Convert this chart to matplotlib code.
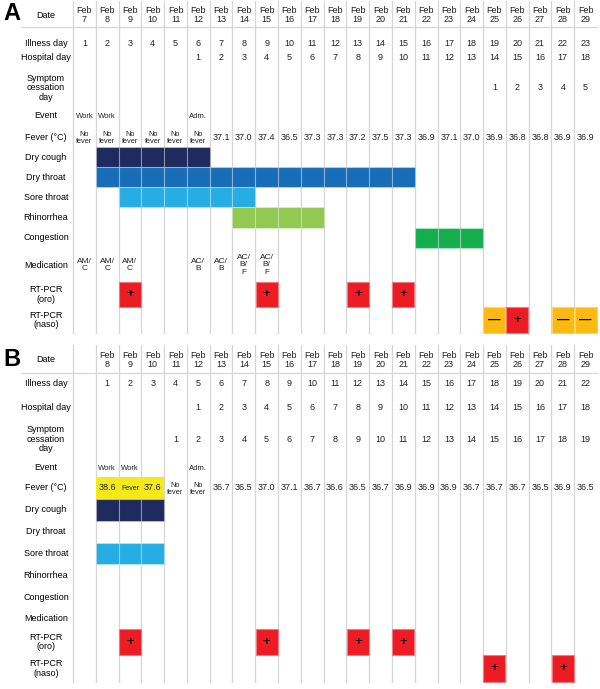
"""Timeline of symptoms and RT-PCR results for two patients (panels A and B)."""

import matplotlib.pyplot as plt
from matplotlib.patches import Rectangle

plt.rcParams["font.family"] = ["Liberation Sans", "DejaVu Sans"]

# ---- data: panel A (Feb 7 - Feb 29) ----
days_a = [7, 8, 9, 10, 11, 12, 13, 14, 15, 16, 17, 18, 19, 20, 21, 22, 23, 24, 25, 26, 27, 28, 29]
illness_a = [1, 2, 3, 4, 5, 6, 7, 8, 9, 10, 11, 12, 13, 14, 15, 16, 17, 18, 19, 20, 21, 22, 23]
hospital_a = [None, None, None, None, None, 1, 2, 3, 4, 5, 6, 7, 8, 9, 10, 11, 12, 13, 14, 15, 16, 17, 18]
cessation_a = [None] * 18 + [1, 2, 3, 4, 5]
events_a = {7: "Work", 8: "Work", 12: "Adm."}
fever_a = ["No\nfever"] * 6 + ["37.1", "37.0", "37.4", "36.5", "37.3", "37.3", "37.2", "37.5", "37.3",
                               "36.9", "37.1", "37.0", "36.9", "36.8", "36.8", "36.9", "36.9"]
fever_high_a = []
symptoms_a = {
    "Dry cough": [8, 9, 10, 11, 12],
    "Dry throat": [8, 9, 10, 11, 12, 13, 14, 15, 16, 17, 18, 19, 20, 21],
    "Sore throat": [9, 10, 11, 12, 13, 14],
    "Rhinorrhea": [14, 15, 16, 17],
    "Congestion": [22, 23, 24],
}
medication_a = {7: "AM/\nC", 8: "AM/\nC", 9: "AM/\nC", 12: "AC/\nB", 13: "AC/\nB", 14: "AC/\nB/\nF", 15: "AC/\nB/\nF"}
pcr_oro_a = {9: "+", 15: "+", 19: "+", 21: "+"}
pcr_naso_a = {25: "-", 26: "+", 28: "-", 29: "-"}

# ---- data: panel B (Feb 8 - Feb 29) ----
days_b = [8, 9, 10, 11, 12, 13, 14, 15, 16, 17, 18, 19, 20, 21, 22, 23, 24, 25, 26, 27, 28, 29]
illness_b = [1, 2, 3, 4, 5, 6, 7, 8, 9, 10, 11, 12, 13, 14, 15, 16, 17, 18, 19, 20, 21, 22]
hospital_b = [None, None, None, None, 1, 2, 3, 4, 5, 6, 7, 8, 9, 10, 11, 12, 13, 14, 15, 16, 17, 18]
cessation_b = [None, None, None, 1, 2, 3, 4, 5, 6, 7, 8, 9, 10, 11, 12, 13, 14, 15, 16, 17, 18, 19]
events_b = {8: "Work", 9: "Work", 12: "Adm."}
fever_b = ["38.6", "Fever", "37.6", "No\nfever", "No\nfever", "36.7", "36.5", "37.0", "37.1", "36.7", "36.6",
           "36.5", "36.7", "36.9", "36.9", "36.9", "36.7", "36.7", "36.7", "36.5", "36.9", "36.5"]
fever_high_b = [8, 9, 10]
symptoms_b = {
    "Dry cough": [8, 9, 10],
    "Dry throat": [],
    "Sore throat": [8, 9, 10],
    "Rhinorrhea": [],
    "Congestion": [],
}
medication_b = {}
pcr_oro_b = {9: "+", 15: "+", 19: "+", 21: "+"}
pcr_naso_b = {25: "+", 28: "+"}

SYMPTOM_COLORS = {
    "Dry cough": "#1f2a5e",
    "Dry throat": "#176db7",
    "Sore throat": "#27ade3",
    "Rhinorrhea": "#92c953",
    "Congestion": "#14ae4e",
}
PCR_COLORS = {"+": "#ec1c24", "-": "#fcb913"}
GRID = "#d6d6d6"

# ---- layout (pixels) ----
X0, X1, N_COLS, FIRST_DAY = 73.0, 597.0, 23, 7
COL_W = (X1 - X0) / N_COLS
LABEL_X = 46

LAYOUT_A = {
    "top": 1, "bottom": 333, "header": 15, "line": 27, "Illness day": 43, "Hospital day": 58,
    "Symptom\ncessation\nday": 88, "Event": 116, "Fever (°C)": (127, 147),
    "Dry cough": (147, 167), "Dry throat": (167, 187), "Sore throat": (187, 207),
    "Rhinorrhea": (207, 228), "Congestion": (228, 248), "Medication": (248, 282),
    "RT-PCR\n(oro)": (282, 307), "RT-PCR\n(naso)": (307, 333), "tag": 14,
}
LAYOUT_B = {
    "top": 345, "bottom": 682, "header": 360, "line": 373, "Illness day": 384, "Hospital day": 408,
    "Symptom\ncessation\nday": 439, "Event": 468, "Fever (°C)": (477, 499),
    "Dry cough": (499, 521), "Dry throat": (521, 543), "Sore throat": (543, 564),
    "Rhinorrhea": (564, 586), "Congestion": (586, 608), "Medication": (608, 629),
    "RT-PCR\n(oro)": (629, 655), "RT-PCR\n(naso)": (655, 682), "tag": 359,
}


def col_left(day):
    return X0 + (day - FIRST_DAY) * COL_W


def col_center(day):
    return col_left(day) + COL_W / 2


def center(v):
    return (v[0] + v[1]) / 2 if isinstance(v, tuple) else v


def draw_panel(ax, tag, lay, days, illness, hospital, cessation, events, fever, fever_high,
               symptoms, medication, pcr_oro, pcr_naso):
    # grid
    for k in range(N_COLS):
        x = X0 + k * COL_W
        ax.plot([x, x], [lay["top"], lay["bottom"]], color=GRID, lw=0.9, zorder=1)
    ax.plot([21, X1], [lay["line"], lay["line"]], color=GRID, lw=0.9, zorder=1)

    ax.text(12, lay["tag"], tag, fontsize=17, fontweight="bold", ha="center", va="center")

    # row labels
    labels = ["Illness day", "Hospital day", "Symptom\ncessation\nday", "Event", "Fever (°C)",
              "Dry cough", "Dry throat", "Sore throat", "Rhinorrhea", "Congestion", "Medication",
              "RT-PCR\n(oro)", "RT-PCR\n(naso)"]
    ax.text(LABEL_X, lay["header"], "Date", fontsize=6.5, ha="center", va="center")
    for lab in labels:
        ax.text(LABEL_X, center(lay[lab]), lab, fontsize=6.5, ha="center", va="center", linespacing=1.1)

    txt = dict(fontsize=6.5, ha="center", va="center", color="#222222")
    for i, d in enumerate(days):
        cx = col_center(d)
        ax.text(cx, lay["header"], f"Feb\n{d}", linespacing=1.05, **txt)
        ax.text(cx, lay["Illness day"], str(illness[i]), **txt)
        if hospital[i] is not None:
            ax.text(cx, lay["Hospital day"], str(hospital[i]), **txt)
        if cessation[i] is not None:
            ax.text(cx, lay["Symptom\ncessation\nday"], str(cessation[i]), **txt)
        fv = fever[i]
        fy = center(lay["Fever (°C)"])
        if fv.startswith("No"):
            ax.text(cx, fy + 1, fv, fontsize=5.3, ha="center", va="center", linespacing=1.0, color="#222222")
        elif fv == "Fever":
            ax.text(cx, fy, fv, fontsize=5.0, ha="center", va="center", color="#222222", zorder=4)
        else:
            ax.text(cx, fy, fv, zorder=4, **txt)

    for d, ev in events.items():
        ax.text(col_center(d), lay["Event"], ev, fontsize=5.5, ha="center", va="center", color="#222222")

    f0, f1 = lay["Fever (°C)"]
    for d in fever_high:
        ax.add_patch(Rectangle((col_left(d), f0), COL_W, f1 - f0, facecolor="#f4ea1a",
                               edgecolor="none", zorder=2))

    for name, sdays in symptoms.items():
        y0, y1 = lay[name]
        for d in sdays:
            ax.add_patch(Rectangle((col_left(d), y0), COL_W, y1 - y0, facecolor=SYMPTOM_COLORS[name],
                                   edgecolor=(1, 1, 1, 0.3), lw=0.8, zorder=2))

    my = center(lay["Medication"])
    for d, m in medication.items():
        ax.text(col_center(d), my, m, fontsize=6.0, ha="center", va="center", linespacing=1.05, color="#222222")

    for key, res in (("RT-PCR\n(oro)", pcr_oro), ("RT-PCR\n(naso)", pcr_naso)):
        y0, y1 = lay[key]
        for d, r in res.items():
            edge = "#f27a7e" if r == "+" else "#fdd56e"
            ax.add_patch(Rectangle((col_left(d) + 0.4, y0 + 0.4), COL_W - 0.8, y1 - y0 - 0.8,
                                   facecolor=PCR_COLORS[r], edgecolor=edge, lw=0.8, zorder=2))
            sign = "+" if r == "+" else "—"
            ax.text(col_center(d), (y0 + y1) / 2, sign, fontsize=9.5 if r == "+" else 9,
                    fontweight="normal" if r == "+" else "bold", ha="center", va="center",
                    color="black", zorder=3)


def main():
    fig = plt.figure(figsize=(6.0, 6.89), dpi=100)
    ax = fig.add_axes([0, 0, 1, 1])
    ax.set_xlim(0, 600)
    ax.set_ylim(689, 0)
    ax.axis("off")

    draw_panel(ax, "A", LAYOUT_A, days_a, illness_a, hospital_a, cessation_a, events_a, fever_a,
               fever_high_a, symptoms_a, medication_a, pcr_oro_a, pcr_naso_a)
    draw_panel(ax, "B", LAYOUT_B, days_b, illness_b, hospital_b, cessation_b, events_b, fever_b,
               fever_high_b, symptoms_b, medication_b, pcr_oro_b, pcr_naso_b)

    fig.savefig("out.png", dpi=100)
    plt.close(fig)


if __name__ == "__main__":
    main()
